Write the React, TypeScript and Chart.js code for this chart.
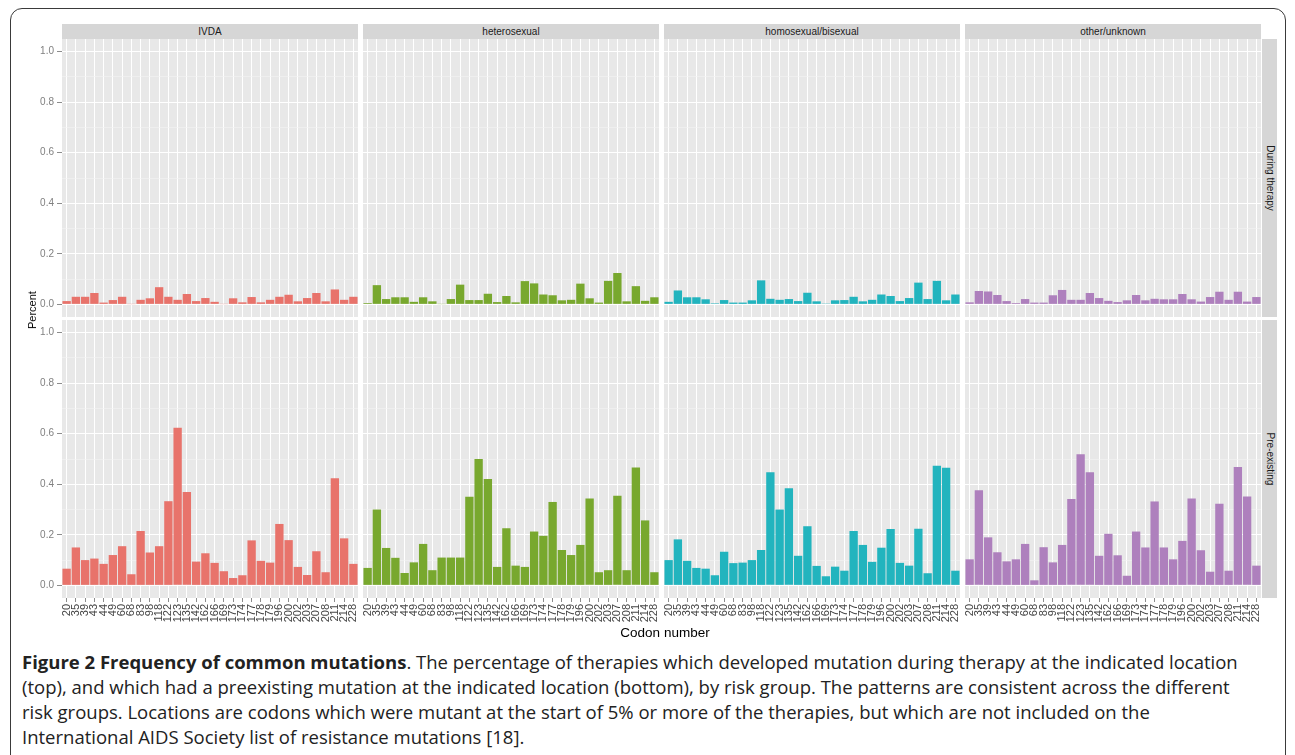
import React, { useEffect, useRef } from "react";
import { Chart, registerables } from "chart.js";
Chart.register(...registerables);

const codons = ["20","35","39","43","44","49","60","68","83","98","118","122","123","135","142","162","166","169","173","174","177","178","179","196","200","202","203","207","208","211","214","228"];
const riskGroups = ["IVDA", "heterosexual", "homosexual/bisexual", "other/unknown"];
const phases = ["During therapy", "Pre-existing"];
const groupColors = ["#E8736B", "#78A82E", "#22B4BE", "#AE80BD"];

const ivdaDuring = [0.013,0.03,0.03,0.045,0.007,0.017,0.03,0.001,0.018,0.024,0.068,0.03,0.018,0.041,0.013,0.025,0.01,0.001,0.024,0.008,0.029,0.008,0.018,0.03,0.038,0.012,0.025,0.045,0.012,0.059,0.018,0.03];
const heteroDuring = [0.005,0.076,0.021,0.028,0.028,0.01,0.028,0.012,0.001,0.021,0.078,0.017,0.017,0.042,0.009,0.033,0.008,0.092,0.083,0.039,0.036,0.016,0.018,0.082,0.024,0.007,0.093,0.124,0.012,0.072,0.014,0.028];
const homoDuring = [0.01,0.055,0.028,0.028,0.02,0.004,0.017,0.007,0.007,0.016,0.095,0.022,0.018,0.021,0.013,0.046,0.012,0.003,0.016,0.017,0.03,0.012,0.018,0.039,0.033,0.013,0.025,0.086,0.021,0.093,0.016,0.039];
const otherDuring = [0.008,0.053,0.051,0.037,0.013,0.005,0.021,0.007,0.007,0.036,0.057,0.018,0.018,0.045,0.025,0.014,0.009,0.016,0.037,0.016,0.022,0.02,0.02,0.041,0.02,0.011,0.029,0.05,0.018,0.05,0.011,0.029];

const ivdaPre = [0.066,0.15,0.10,0.106,0.085,0.12,0.155,0.044,0.215,0.13,0.155,0.333,0.624,0.369,0.094,0.127,0.089,0.056,0.029,0.04,0.178,0.097,0.09,0.243,0.179,0.073,0.041,0.135,0.052,0.424,0.186,0.085];
const heteroPre = [0.069,0.30,0.148,0.109,0.049,0.091,0.164,0.06,0.11,0.11,0.11,0.351,0.50,0.421,0.073,0.226,0.078,0.073,0.213,0.196,0.33,0.14,0.12,0.16,0.344,0.052,0.06,0.355,0.06,0.466,0.257,0.052];
const homoPre = [0.10,0.182,0.097,0.069,0.066,0.04,0.133,0.088,0.09,0.10,0.14,0.448,0.30,0.384,0.117,0.234,0.077,0.036,0.074,0.058,0.215,0.16,0.093,0.149,0.223,0.089,0.078,0.224,0.048,0.473,0.465,0.058];
const otherPre = [0.103,0.376,0.19,0.131,0.095,0.103,0.164,0.02,0.151,0.091,0.16,0.342,0.519,0.448,0.117,0.204,0.119,0.038,0.213,0.15,0.332,0.15,0.103,0.176,0.344,0.139,0.054,0.323,0.058,0.468,0.352,0.078];

const yMajorValues = [0, 0.2, 0.4, 0.6, 0.8, 1.0];
const yMajorLabels = ["0.0", "0.2", "0.4", "0.6", "0.8", "1.0"];
const yMinorValues = [0.1, 0.3, 0.5, 0.7, 0.9];

const xTitle = "Codon number";
const yTitle = "Percent";
const captionBold = "Figure 2 Frequency of common mutations";
const captionLines = [
  ". The percentage of therapies which developed mutation during therapy at the indicated location",
  "(top), and which had a preexisting mutation at the indicated location (bottom), by risk group. The patterns are consistent across the different",
  "risk groups. Locations are codons which were mutant at the start of 5% or more of the therapies, but which are not included on the",
  "International AIDS Society list of resistance mutations [18].",
];

const panelValues = [
  [ivdaDuring, heteroDuring, homoDuring, otherDuring],
  [ivdaPre, heteroPre, homoPre, otherPre],
];

// layout
const PANEL_LEFT = [62, 363, 664, 965];
const PANEL_W = 296;
const ROW_TOP = [39, 320];
const PANEL_H = 278;
const Y_AXIS_W = 42;
const X_AXIS_H = 40;
const FONT = "'Liberation Sans', Arial, sans-serif";

const isMajor = (v: number) => yMajorValues.some((m) => Math.abs(m - v) < 1e-6);

const panelBg = {
  id: "panelBg",
  beforeDraw(chart: any) {
    const { ctx, chartArea: a } = chart;
    ctx.save();
    ctx.fillStyle = "#E8E8E8";
    ctx.fillRect(a.left, a.top, a.right - a.left, a.bottom - a.top);
    ctx.restore();
  },
};

function zeroPadding(s: any) {
  s.paddingTop = 0;
  s.paddingBottom = 0;
  s.paddingLeft = 0;
  s.paddingRight = 0;
}

function Panel({ col, row }: { col: number; row: number }) {
  const ref = useRef<HTMLCanvasElement>(null);
  const showY = col === 0;
  const showX = row === 1;
  const yW = showY ? Y_AXIS_W : 0;
  const xH = showX ? X_AXIS_H : 0;
  const left = PANEL_LEFT[col] - yW;
  const top = ROW_TOP[row];
  const w = PANEL_W + yW;
  const h = PANEL_H + xH;

  useEffect(() => {
    const chart = new Chart(ref.current as HTMLCanvasElement, {
      type: "bar",
      data: {
        labels: codons,
        datasets: [
          {
            data: panelValues[row][col],
            backgroundColor: groupColors[col],
            borderWidth: 0,
            barPercentage: 0.9,
            categoryPercentage: 1,
          },
        ],
      },
      options: {
        animation: false,
        responsive: false,
        maintainAspectRatio: false,
        devicePixelRatio: 1,
        layout: { padding: 0 },
        plugins: { legend: { display: false }, tooltip: { enabled: false }, title: { display: false } },
        scales: {
          x: {
            type: "category",
            offset: true,
            border: { display: false },
            grid: {
              offset: false,
              color: "#FFFFFF",
              lineWidth: 1,
              drawTicks: showX,
              tickLength: 4,
              tickColor: "#8C8C8C",
            },
            ticks: {
              display: showX,
              autoSkip: false,
              minRotation: 90,
              maxRotation: 90,
              padding: 2,
              color: "#444444",
              font: { family: FONT, size: 11 },
            },
            afterFit: (s: any) => {
              s.height = xH;
              zeroPadding(s);
            },
          },
          y: {
            min: -0.05,
            max: 1.05,
            border: { display: false },
            afterBuildTicks: (s: any) => {
              s.ticks = [...yMajorValues, ...yMinorValues].sort((a, b) => a - b).map((v) => ({ value: v }));
            },
            grid: {
              color: (ctx: any) => (isMajor(ctx.tick.value) ? "#FFFFFF" : "#F3F3F3"),
              lineWidth: (ctx: any) => (isMajor(ctx.tick.value) ? 1 : 0.6),
              drawTicks: showY,
              tickLength: 5,
              tickColor: (ctx: any) => (isMajor(ctx.tick.value) ? "#8C8C8C" : "rgba(0,0,0,0)"),
            },
            ticks: {
              display: showY,
              padding: 3,
              color: "#808080",
              font: { family: FONT, size: 10 },
              callback: (v: any) => {
                const i = yMajorValues.findIndex((m) => Math.abs(m - Number(v)) < 1e-6);
                return i >= 0 ? yMajorLabels[i] : "";
              },
            },
            afterFit: (s: any) => {
              s.width = yW;
              zeroPadding(s);
            },
          },
        },
      },
      plugins: [panelBg],
    } as any);
    return () => chart.destroy();
  }, []);

  return (
    <canvas
      ref={ref}
      width={w}
      height={h}
      style={{ position: "absolute", left, top, width: w, height: h }}
    />
  );
}

export default function App() {
  const stripBg = "#D6D6D6";
  return (
    <div style={{ position: "absolute", left: 0, top: 0, width: 1295, height: 755, background: "#fff", overflow: "hidden" }}>
      <div
        style={{
          position: "absolute",
          left: 10,
          top: 8,
          width: 1276,
          height: 780,
          border: "1.5px solid #3a3a3a",
          borderRadius: 12,
          boxSizing: "border-box",
        }}
      />
      {riskGroups.map((g, c) => (
        <div
          key={g}
          style={{
            position: "absolute",
            left: PANEL_LEFT[c],
            top: 24,
            width: PANEL_W,
            height: 15,
            background: stripBg,
            font: `10px ${FONT}`,
            color: "#1A1A1A",
            textAlign: "center",
            lineHeight: "15px",
          }}
        >
          {g}
        </div>
      ))}
      {phases.map((p, r) => (
        <div
          key={p}
          style={{
            position: "absolute",
            left: 1262,
            top: ROW_TOP[r],
            width: 15,
            height: PANEL_H,
            background: stripBg,
          }}
        >
          <div
            style={{
              position: "absolute",
              left: 7.5,
              top: PANEL_H / 2,
              transform: "translate(-50%, -50%) rotate(90deg)",
              whiteSpace: "nowrap",
              font: `10px ${FONT}`,
              color: "#1A1A1A",
            }}
          >
            {p}
          </div>
        </div>
      ))}
      {[0, 1].map((r) => [0, 1, 2, 3].map((c) => <Panel key={`${r}-${c}`} row={r} col={c} />))}
      <div
        style={{
          position: "absolute",
          left: 32,
          top: 310,
          transform: "translate(-50%, -50%) rotate(-90deg)",
          whiteSpace: "nowrap",
          font: `11px ${FONT}`,
          color: "#000",
        }}
      >
        {yTitle}
      </div>
      <div
        style={{
          position: "absolute",
          left: 665,
          top: 632,
          transform: "translate(-50%, -50%)",
          whiteSpace: "nowrap",
          font: `13.5px ${FONT}`,
          color: "#000",
        }}
      >
        {xTitle}
      </div>
      {captionLines.map((line, i) => (
        <div
          key={i}
          style={{
            position: "absolute",
            left: 22,
            top: 649 + i * 25,
            whiteSpace: "nowrap",
            font: `18.5px 'Open Sans', sans-serif`,
            color: "#222",
            lineHeight: "25px",
          }}
        >
          {i === 0 ? <span style={{ fontWeight: 700 }}>{captionBold}</span> : null}
          {line}
        </div>
      ))}
    </div>
  );
}
